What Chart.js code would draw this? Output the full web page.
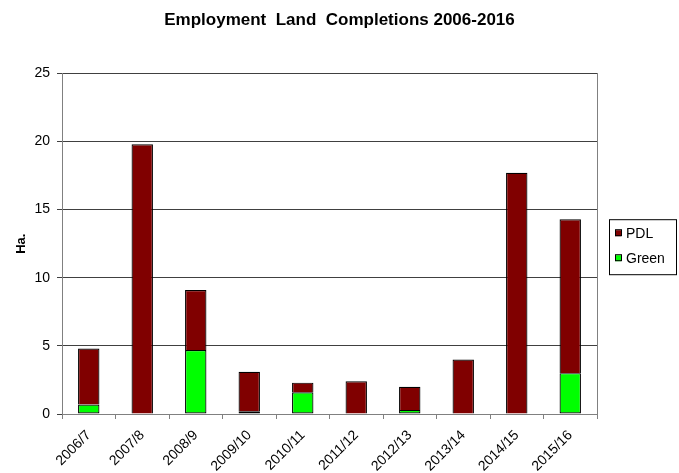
<!DOCTYPE html>
<html><head><meta charset="utf-8">
<script src="https://cdn.jsdelivr.net/npm/chart.js@4/dist/chart.umd.min.js"></script>
<style>html,body{margin:0;padding:0;background:#fff}</style>
</head><body>
<canvas id="c" width="679" height="473"></canvas>
<script>
// Financial years reported
const years = ['2006/7', '2007/8', '2008/9', '2009/10', '2010/11', '2011/12', '2012/13', '2013/14', '2014/15', '2015/16'];
// Hectares completed on greenfield land
const green = [0.7, 0, 4.7, 0.2, 1.6, 0, 0.3, 0, 0, 3.0];
// Hectares completed on previously developed land
const pdl = [4.1, 19.8, 4.4, 2.9, 0.7, 2.4, 1.7, 4.0, 17.7, 11.3];
const yMin = 0, yMax = 25, yStep = 5;

const FONT = "Arial, 'Liberation Sans', sans-serif";

// Boxed legend to the right of the plot, listing PDL above Green
const boxLegend = {
  id: 'boxLegend',
  afterDraw(chart) {
    const ctx = chart.ctx, area = chart.chartArea;
    const items = chart.data.datasets.slice().reverse();
    const x = area.right + 12, w = 67, h = 55;
    const y = (area.top + area.bottom) / 2 - h / 2 + 3;
    ctx.save();
    ctx.strokeStyle = '#000';
    ctx.lineWidth = 1;
    ctx.strokeRect(x + 0.5, y + 0.5, w, h);
    ctx.font = '14px ' + FONT;
    ctx.textBaseline = 'middle';
    items.forEach((ds, i) => {
      const cy = y + 14 + i * 25;
      ctx.fillStyle = ds.backgroundColor;
      ctx.fillRect(x + 6, cy - 3, 6, 6);
      ctx.strokeStyle = '#000';
      ctx.strokeRect(x + 6.5, cy - 3.5, 6, 6);
      ctx.fillStyle = '#000';
      ctx.fillText(ds.label, x + 17, cy + 1);
    });
    ctx.restore();
  }
};

const barStyle = { borderColor: '#000', borderWidth: 1.2, inflateAmount: 0, barPercentage: 0.4, categoryPercentage: 1 };

new Chart(document.getElementById('c'), {
  type: 'bar',
  data: {
    labels: years,
    datasets: [
      Object.assign({ label: 'Green', data: green, backgroundColor: '#00FF00', borderSkipped: false }, barStyle),
      Object.assign({ label: 'PDL', data: pdl, backgroundColor: '#800000', borderSkipped: 'start' }, barStyle)
    ]
  },
  options: {
    responsive: false,
    animation: false,
    devicePixelRatio: 1,
    layout: { padding: 0 },
    plugins: {
      legend: { display: false },
      tooltip: { enabled: false },
      title: {
        display: true,
        text: 'Employment  Land  Completions 2006-2016',
        color: '#000',
        font: { family: FONT, size: 17, weight: 'bold' },
        padding: { top: 10, bottom: 43 }
      }
    },
    scales: {
      x: {
        stacked: true,
        grid: { display: true, drawOnChartArea: false, drawTicks: true, tickLength: 5, color: '#808080', offset: true },
        border: { display: true, color: '#808080' },
        ticks: { color: '#000', font: { family: FONT, size: 14 }, minRotation: 45, maxRotation: 45, padding: 8 },
        afterFit(s) { s.height = 59; }
      },
      y: {
        stacked: true,
        min: yMin, max: yMax,
        ticks: { stepSize: yStep, color: '#000', font: { family: FONT, size: 14 }, padding: 7 },
        grid: { color: '#404040', tickLength: 5, drawTicks: true },
        border: { display: true, color: '#808080' },
        title: { display: true, text: 'Ha.', color: '#000', font: { family: FONT, size: 13, weight: 'bold' }, padding: { top: 14, bottom: 0 } },
        afterFit(s) { s.width = 62; }
      },
      // right frame of the plot; its width leaves room for the legend
      yRight: {
        position: 'right',
        min: yMin, max: yMax,
        grid: { display: false },
        ticks: { display: false },
        border: { display: true, color: '#808080' },
        afterFit(s) { s.width = 82; }
      }
    }
  },
  plugins: [boxLegend]
});
</script>
</body></html>
